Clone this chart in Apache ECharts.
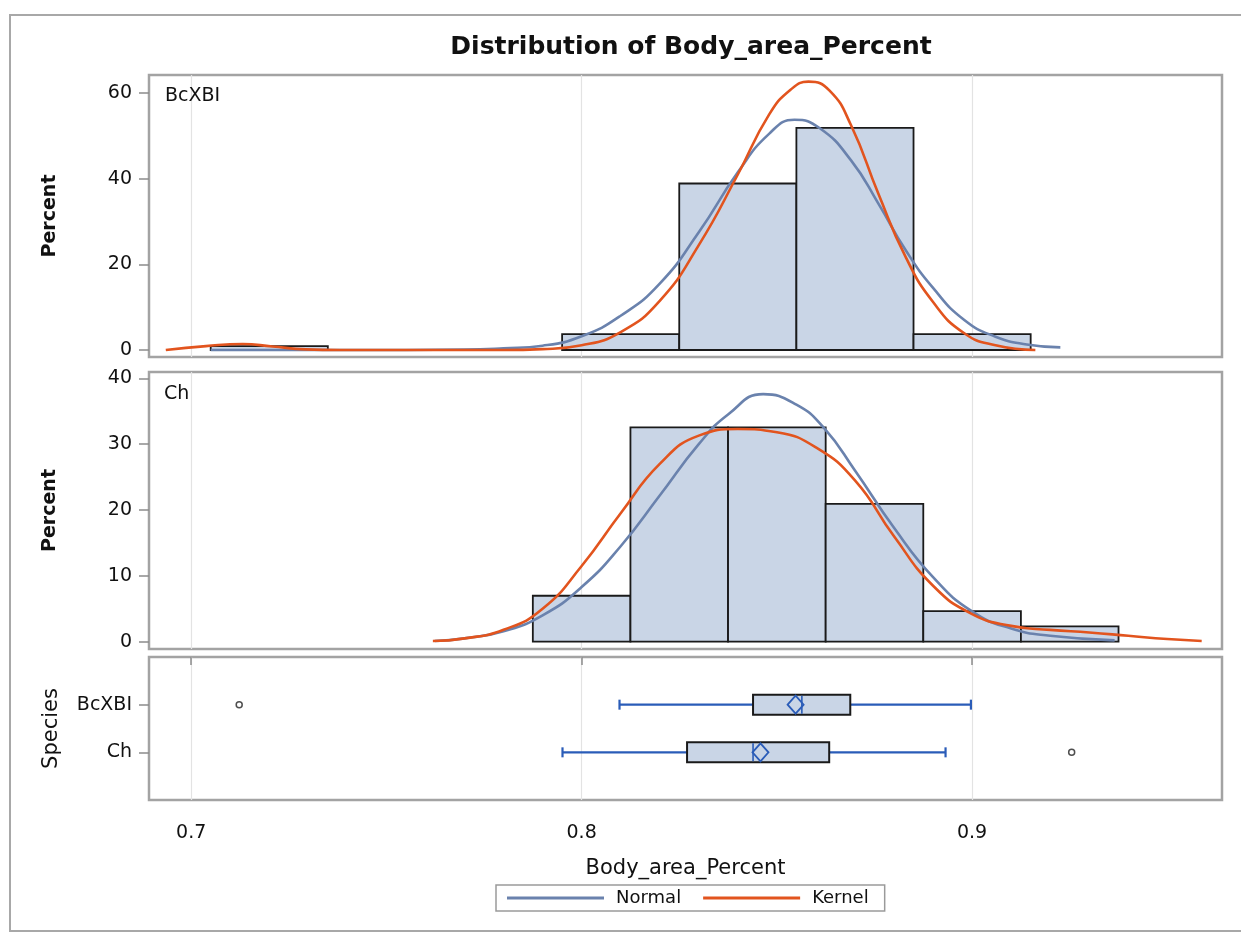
<!DOCTYPE html>
<html>
<head>
<meta charset="utf-8">
<script src="https://cdn.jsdelivr.net/npm/echarts@6/dist/echarts.min.js"></script>
<style>
  html, body { margin: 0; padding: 0; background: #fff; }
  #chart { width: 1241px; height: 933px; }
</style>
</head>
<body>
<div id="chart"></div>
<script>
// ---------------- DATA ----------------
const titleText = 'Distribution of Body_area_Percent';
const xName = 'Body_area_Percent';
const species = ['BcXBI', 'Ch'];
const xTicks = [0.7, 0.8, 0.9];
const yTicksTop = [0, 20, 40, 60];
const yTicksMid = [0, 10, 20, 30, 40];

// Histogram bins: [lower edge, upper edge, percent]
const histBcXBI = [
  [0.705, 0.735, 0.9],
  [0.795, 0.825, 3.7],
  [0.825, 0.855, 38.9],
  [0.855, 0.885, 51.9],
  [0.885, 0.915, 3.7]
];
const histCh = [
  [0.7875, 0.8125, 6.98],
  [0.8125, 0.8375, 32.56],
  [0.8375, 0.8625, 32.56],
  [0.8625, 0.8875, 20.93],
  [0.8875, 0.9125, 4.65],
  [0.9125, 0.9375, 2.33]
];

// Density curves: [x, percent]
const normalBcXBI = [
  [0.705, 0], [0.74, 0], [0.77, 0.1], [0.78, 0.4], [0.79, 1.0], [0.80, 3.2],
  [0.81, 8.0], [0.82, 15.5], [0.83, 27.5], [0.84, 41.5], [0.848, 50.5],
  [0.8545, 53.8], [0.861, 51.8], [0.869, 44.3], [0.876, 34.2], [0.883, 23.3],
  [0.89, 14.5], [0.898, 7.0], [0.906, 3.1], [0.914, 1.3], [0.9226, 0.6]
];
const kernelBcXBI = [
  [0.6935, 0], [0.7038, 0.9], [0.7132, 1.4], [0.7208, 0.8], [0.7294, 0.15], [0.738, 0],
  [0.78, 0], [0.79, 0.2], [0.80, 1.1], [0.81, 4.2], [0.82, 11.5], [0.83, 24.5],
  [0.84, 41], [0.848, 55], [0.8535, 60.8], [0.8581, 62.7], [0.8635, 60.6],
  [0.869, 52.5], [0.876, 36.5], [0.883, 21.7], [0.89, 11.2], [0.898, 3.9],
  [0.906, 1.1], [0.9162, 0]
];
const normalCh = [
  [0.7624, 0.1], [0.77, 0.5], [0.78, 1.6], [0.79, 4.0], [0.80, 8.3], [0.81, 14.5],
  [0.82, 22.2], [0.83, 30.0], [0.8375, 34.5], [0.8465, 37.6], [0.855, 36.0],
  [0.862, 32.5], [0.87, 26.0], [0.88, 17.3], [0.89, 9.8], [0.90, 4.6],
  [0.91, 2.0], [0.92, 0.9], [0.9365, 0.2]
];
const kernelCh = [
  [0.7619, 0.1], [0.77, 0.5], [0.78, 1.8], [0.79, 5.0], [0.80, 11.5], [0.81, 19.5],
  [0.82, 27.0], [0.83, 31.3], [0.84, 32.3], [0.85, 31.8], [0.86, 29.5], [0.87, 24.5],
  [0.88, 16.0], [0.89, 8.5], [0.90, 4.2], [0.91, 2.4], [0.92, 1.8], [0.93, 1.4],
  [0.94, 0.9], [0.95, 0.4], [0.9588, 0.1]
];

// Box plot statistics: [row, whiskerLow, Q1, median, Q3, whiskerHigh, mean]
const boxStats = [
  [1, 0.8097, 0.8439, 0.8564, 0.8688, 0.8997, 0.8548],
  [2, 0.7951, 0.8270, 0.8439, 0.8634, 0.8932, 0.8458]
];
// Outliers: [value, row]
const outliers = [
  [0.7123, 1],
  [0.9255, 2]
];

// ---------------- CHART ----------------
const FONT = 'DejaVu Sans';
const BAR_FILL = '#c9d5e6';
const NORMAL_COLOR = '#6a82ad';
const KERNEL_COLOR = '#e2541e';
const BOX_BLUE = '#2a5cb8';
const X_MIN = 0.6892, X_MAX = 0.9640;

const chart = echarts.init(document.getElementById('chart'), null, { renderer: 'canvas' });

function histItem(params, api) {
  const lo = api.value(0), hi = api.value(1), h = api.value(2);
  const p0 = api.coord([lo, 0]);
  const p1 = api.coord([hi, h]);
  return {
    type: 'rect',
    shape: { x: p0[0], y: p1[1], width: p1[0] - p0[0], height: p0[1] - p1[1] },
    style: { fill: BAR_FILL, stroke: '#1a1a1a', lineWidth: 1.8 }
  };
}

function boxItem(params, api) {
  const row = api.value(0);
  const wl = api.coord([api.value(1), row]);
  const q1 = api.coord([api.value(2), row]);
  const md = api.coord([api.value(3), row]);
  const q3 = api.coord([api.value(4), row]);
  const wh = api.coord([api.value(5), row]);
  const mn = api.coord([api.value(6), row]);
  const y = q1[1];
  const bh = 10, cap = 5, dw = 8, dh = 9;
  const blueLine = { stroke: BOX_BLUE, lineWidth: 2.2 };
  return {
    type: 'group',
    children: [
      { type: 'line', shape: { x1: wl[0], y1: y, x2: q1[0], y2: y }, style: blueLine },
      { type: 'line', shape: { x1: q3[0], y1: y, x2: wh[0], y2: y }, style: blueLine },
      { type: 'line', shape: { x1: wl[0], y1: y - cap, x2: wl[0], y2: y + cap }, style: blueLine },
      { type: 'line', shape: { x1: wh[0], y1: y - cap, x2: wh[0], y2: y + cap }, style: blueLine },
      { type: 'rect', shape: { x: q1[0], y: y - bh, width: q3[0] - q1[0], height: 2 * bh },
        style: { fill: BAR_FILL, stroke: '#1a1a1a', lineWidth: 2 } },
      { type: 'line', shape: { x1: md[0], y1: y - bh + 1, x2: md[0], y2: y + bh - 1 },
        style: { stroke: BOX_BLUE, lineWidth: 1.6 } },
      { type: 'polygon', shape: { points: [[mn[0] - dw, y], [mn[0], y - dh], [mn[0] + dw, y], [mn[0], y + dh]] },
        style: { fill: 'none', stroke: BOX_BLUE, lineWidth: 1.8 } }
    ]
  };
}

const axisLabelStyle = { color: '#111', fontFamily: FONT, fontSize: 19 };
const tickStyle = { lineStyle: { color: '#8c8c8c', width: 1.5 } };
const gridLine = { show: true, lineStyle: { color: '#e3e3e3', width: 1.2 } };

function xAxisHidden(gi) {
  return {
    type: 'value', gridIndex: gi, min: X_MIN, max: X_MAX,
    axisLine: { show: false },
    axisTick: { show: false, customValues: xTicks },
    axisLabel: { show: false, customValues: xTicks },
    splitLine: gridLine
  };
}

function curve(name, xi, data, color, z) {
  return {
    type: 'line', name: name, xAxisIndex: xi, yAxisIndex: xi, data: data,
    smooth: 0.5, showSymbol: false,
    lineStyle: { color: color, width: 2.6 }, itemStyle: { color: color }, z: z
  };
}

const option = {
  backgroundColor: '#ffffff',
  animation: false,
  title: {
    text: titleText,
    left: 686, top: 30, textAlign: 'center',
    textStyle: { fontFamily: FONT, fontSize: 25, fontWeight: 'bold', color: '#111' }
  },
  legend: {
    data: ['Normal', 'Kernel'],
    left: 496, top: 885,
    orient: 'horizontal',
    icon: 'rect',
    itemWidth: 97, itemHeight: 3, itemGap: 22,
    padding: [4, 16, 4, 11],
    borderColor: '#9a9a9a', borderWidth: 1.5,
    textStyle: { fontFamily: FONT, fontSize: 18, color: '#111', padding: [0, 0, 0, 7] }
  },
  grid: [
    { left: 149, right: 19, top: 75, height: 282, show: true, borderColor: '#a3a3a3', borderWidth: 2.5, backgroundColor: '#fff' },
    { left: 149, right: 19, top: 372, height: 277, show: true, borderColor: '#a3a3a3', borderWidth: 2.5, backgroundColor: '#fff' },
    { left: 149, right: 19, top: 657, height: 143, show: true, borderColor: '#a3a3a3', borderWidth: 2.5, backgroundColor: '#fff' }
  ],
  xAxis: [
    xAxisHidden(0),
    xAxisHidden(1),
    {
      type: 'value', gridIndex: 2, min: X_MIN, max: X_MAX,
      name: xName, nameLocation: 'middle', nameGap: 58,
      nameTextStyle: { fontFamily: FONT, fontSize: 21, color: '#111' },
      axisLine: { show: false },
      axisTick: { show: true, length: 8, customValues: xTicks, lineStyle: { color: '#8c8c8c', width: 1.5 } },
      axisLabel: Object.assign({ margin: 24, customValues: xTicks, formatter: v => Number(v).toFixed(1) }, axisLabelStyle),
      splitLine: gridLine
    }
  ],
  yAxis: [
    {
      type: 'value', gridIndex: 0, min: -1.64, max: 64.25,
      name: 'Percent', nameLocation: 'middle', nameGap: 89, nameRotate: 90,
      nameTextStyle: { fontFamily: FONT, fontSize: 19, fontWeight: 'bold', color: '#111' },
      axisLine: { show: false },
      axisTick: Object.assign({ show: true, length: 10, customValues: yTicksTop }, tickStyle),
      axisLabel: Object.assign({ margin: 17, customValues: yTicksTop }, axisLabelStyle),
      splitLine: { show: false }
    },
    {
      type: 'value', gridIndex: 1, min: -1.11, max: 40.96,
      name: 'Percent', nameLocation: 'middle', nameGap: 89, nameRotate: 90,
      nameTextStyle: { fontFamily: FONT, fontSize: 19, fontWeight: 'bold', color: '#111' },
      axisLine: { show: false },
      axisTick: Object.assign({ show: true, length: 10, customValues: yTicksMid }, tickStyle),
      axisLabel: Object.assign({ margin: 17, customValues: yTicksMid }, axisLabelStyle),
      splitLine: { show: false }
    },
    {
      type: 'value', gridIndex: 2, min: 0, max: 3, inverse: true,
      name: 'Species', nameLocation: 'middle', nameGap: 87, nameRotate: 90,
      nameTextStyle: { fontFamily: FONT, fontSize: 21, color: '#111' },
      axisLine: { show: false },
      axisTick: Object.assign({ show: true, length: 10, customValues: [1, 2] }, tickStyle),
      axisLabel: Object.assign({ margin: 17, customValues: [1, 2], formatter: v => species[Math.round(v) - 1] || '' }, axisLabelStyle),
      splitLine: { show: false }
    }
  ],
  graphic: [
    { type: 'rect', shape: { x: 10, y: 15, width: 1240, height: 916 }, style: { fill: 'none', stroke: '#a8a8a8', lineWidth: 2 }, silent: true },
    { type: 'text', left: 165, top: 87, style: { text: species[0], fontFamily: FONT, fontSize: 19, fill: '#111' }, z: 100 },
    { type: 'text', left: 164, top: 385, style: { text: species[1], fontFamily: FONT, fontSize: 19, fill: '#111' }, z: 100 }
  ],
  series: [
    { type: 'custom', name: 'histBcXBI', xAxisIndex: 0, yAxisIndex: 0, renderItem: histItem, data: histBcXBI, z: 2, silent: true },
    curve('Normal', 0, normalBcXBI, NORMAL_COLOR, 3),
    curve('Kernel', 0, kernelBcXBI, KERNEL_COLOR, 4),
    { type: 'custom', name: 'histCh', xAxisIndex: 1, yAxisIndex: 1, renderItem: histItem, data: histCh, z: 2, silent: true },
    curve('Normal', 1, normalCh, NORMAL_COLOR, 3),
    curve('Kernel', 1, kernelCh, KERNEL_COLOR, 4),
    { type: 'custom', name: 'box', xAxisIndex: 2, yAxisIndex: 2, renderItem: boxItem, data: boxStats, z: 3, silent: true },
    { type: 'scatter', name: 'outlier', xAxisIndex: 2, yAxisIndex: 2, data: outliers, symbol: 'circle', symbolSize: 6,
      itemStyle: { color: '#fff', borderColor: '#222', borderWidth: 1.5 }, z: 4, silent: true }
  ]
};

chart.setOption(option);
</script>
</body>
</html>
